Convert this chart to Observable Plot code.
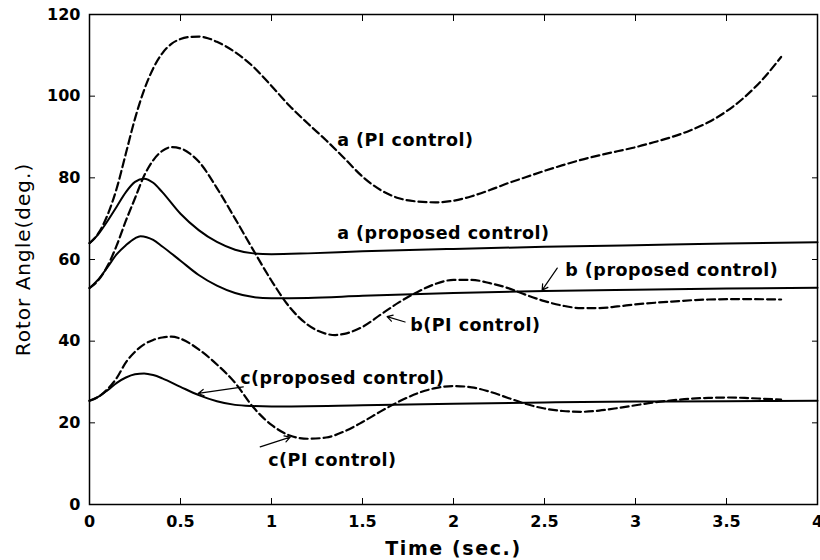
<!DOCTYPE html>
<html><head><meta charset="utf-8">
<script src="https://cdn.jsdelivr.net/npm/d3@7"></script>
<script src="https://cdn.jsdelivr.net/npm/@observablehq/plot@0.6"></script>
<style>
body{margin:0;background:#fff;}
#chart svg{font-family:"DejaVu Sans",sans-serif;background:#fff;}
</style></head><body><div id="chart"></div>
<script>
// ---- data ----
const aPI_t = [0,0.05,0.1,0.15,0.2,0.25,0.3,0.35,0.4,0.45,0.5,0.55,0.6,0.65,0.7,0.8,0.9,1.0,1.1,1.2,1.3,1.4,1.5,1.6,1.7,1.8,1.9,2.0,2.1,2.2,2.3,2.4,2.5,2.6,2.7,2.8,2.9,3.0,3.1,3.2,3.3,3.4,3.5,3.6,3.7,3.8];
const aPI_v = [64,66.5,71,77.5,86,94.5,101.5,106.8,110.5,112.8,114,114.5,114.6,114.2,113.3,110.8,107.2,102.5,97.6,93.3,89.2,84.8,80.3,77,75,74.2,74,74.4,75.5,77,78.7,80.2,81.7,83.1,84.4,85.5,86.5,87.5,88.7,90,91.6,93.6,96.3,99.8,104.2,109.6];

const aProp_t = [0,0.05,0.1,0.15,0.2,0.25,0.3,0.35,0.4,0.5,0.6,0.7,0.8,0.9,1.0,1.2,1.5,2.0,2.5,3.0,3.5,4.0];
const aProp_v = [64,66.3,69.5,73,76.5,79,79.8,78.8,76.5,71.2,67.2,64.3,62.4,61.5,61.3,61.5,62,62.6,63.1,63.5,63.9,64.2];

const bPI_t = [0,0.05,0.1,0.15,0.2,0.25,0.3,0.35,0.4,0.45,0.5,0.55,0.6,0.7,0.8,0.9,1.0,1.1,1.2,1.3,1.35,1.4,1.5,1.6,1.7,1.8,1.9,2.0,2.1,2.2,2.3,2.4,2.5,2.6,2.7,2.8,2.9,3.0,3.2,3.4,3.6,3.8];
const bPI_v = [53,55,58.5,63.5,69.5,75,80.5,84.3,86.6,87.5,87.2,86,84,77.5,70,62.3,54.8,48.3,44,41.8,41.5,41.8,43.5,46.5,49.5,52,54,55,55,54.2,53,51.3,49.8,48.7,48.1,48.1,48.5,49,49.7,50.2,50.3,50.2];

const bProp_t = [0,0.05,0.1,0.15,0.2,0.25,0.28,0.35,0.4,0.5,0.6,0.7,0.8,0.9,1.0,1.2,1.5,2.0,2.5,3.0,3.5,4.0];
const bProp_v = [53,55.2,58.2,61.3,63.5,65.2,65.7,64.8,63.2,59.7,56.2,53.6,51.8,50.8,50.5,50.6,51.1,51.8,52.3,52.6,52.9,53.1];

const cPI_t = [0,0.05,0.1,0.15,0.2,0.25,0.3,0.35,0.4,0.45,0.5,0.6,0.7,0.8,0.9,1.0,1.1,1.2,1.3,1.4,1.5,1.6,1.7,1.8,1.9,2.0,2.1,2.2,2.3,2.4,2.5,2.6,2.7,2.8,2.9,3.0,3.1,3.2,3.3,3.4,3.5,3.6,3.7,3.8];
const cPI_v = [25.4,26.4,28.3,31,34.8,37.4,39.2,40.3,40.9,41.1,40.6,38,34.3,29.8,23.8,19.5,16.9,16.1,16.4,17.9,20.2,22.8,25.2,27.2,28.5,29,28.7,27.6,26.1,24.6,23.5,22.9,22.7,23,23.6,24.3,25,25.5,25.9,26.1,26.2,26.1,25.9,25.7];

const cProp_t = [0,0.05,0.1,0.15,0.2,0.25,0.3,0.35,0.4,0.5,0.6,0.7,0.8,0.9,1.0,1.5,2.0,2.5,3.0,3.5,4.0];
const cProp_v = [25.4,26.4,28,29.8,31.1,31.9,32.1,31.7,30.9,28.8,26.8,25.3,24.4,24.1,24,24.3,24.7,25,25.2,25.3,25.4];

const xTicks = [0,0.5,1,1.5,2,2.5,3,3.5,4];
const xTickLabels = ["0","0.5","1","1.5","2","2.5","3","3.5","4"];
const yTicks = [0,20,40,60,80,100,120];
const yTickLabels = ["0","20","40","60","80","100","120"];

const labelText = ["a (PI control)","a (proposed control)","b (proposed control)","b(PI control)","c(proposed control)","c(PI control)"];
const labelX = [1.361,1.361,2.614,1.762,0.828,0.982];
const labelY = [89.1,66.5,57.4,43.9,30.9,10.8];

const arrowX1 = [2.570,1.734,0.845,0.938];
const arrowY1 = [57.9,44.7,28.8,14.1];
const arrowX2 = [2.487,1.635,0.597,1.103];
const arrowY2 = [52.5,46.0,27.2,16.5];

const xTitle = "Time (sec.)";
const yTitle = "Rotor Angle(deg.)";

// ---- build tables ----
const rows = [];
function addSeries(name, kind, ts, vs){ ts.forEach((t,i)=>rows.push({series:name, kind, t, v:vs[i]})); }
addSeries("a PI","PI",aPI_t,aPI_v);
addSeries("b PI","PI",bPI_t,bPI_v);
addSeries("c PI","PI",cPI_t,cPI_v);
addSeries("a proposed","proposed",aProp_t,aProp_v);
addSeries("b proposed","proposed",bProp_t,bProp_v);
addSeries("c proposed","proposed",cProp_t,cProp_v);

const labels = labelText.map((s,i)=>({s, x:labelX[i], y:labelY[i]}));
const arrows = arrowX1.map((d,i)=>({x1:arrowX1[i], y1:arrowY1[i], x2:arrowX2[i], y2:arrowY2[i]}));

const fx = d => xTickLabels[xTicks.indexOf(d)];
const fy = d => yTickLabels[yTicks.indexOf(d)];

const chart = Plot.plot({
  width: 820, height: 560,
  marginLeft: 89, marginRight: 3, marginTop: 14, marginBottom: 56,
  x: {domain: [0,4]},
  y: {domain: [0,120]},
  style: {fontFamily: "DejaVu Sans", background: "white", color: "black"},
  marks: [
    Plot.axisX({anchor:"bottom", ticks:xTicks, tickSize:-6, tickPadding:17, tickFormat:fx, fontSize:16, fontWeight:"bold", label:null}),
    Plot.axisX({anchor:"top", ticks:xTicks, tickSize:-6, tickFormat:()=>"", label:null}),
    Plot.axisY({anchor:"left", ticks:yTicks, tickSize:-6, tickPadding:15, tickFormat:fy, fontSize:16, fontWeight:"bold", label:null}),
    Plot.axisY({anchor:"right", ticks:yTicks, tickSize:-6, tickFormat:()=>"", label:null}),
    Plot.frame({stroke:"black", strokeWidth:1.5}),
    Plot.line(rows.filter(d=>d.kind==="proposed"), {x:"t", y:"v", z:"series", stroke:"black", strokeWidth:2, curve:"monotone-x"}),
    Plot.line(rows.filter(d=>d.kind==="PI"), {x:"t", y:"v", z:"series", stroke:"black", strokeWidth:2.2, strokeDasharray:"8,4", curve:"monotone-x"}),
    Plot.arrow(arrows, {x1:"x1", y1:"y1", x2:"x2", y2:"y2", stroke:"black", strokeWidth:1.2, headLength:8}),
    Plot.text(labels, {x:"x", y:"y", text:"s", textAnchor:"start", lineAnchor:"middle", fontSize:17.5, fontWeight:"bold", fill:"black"}),
    Plot.text([xTitle], {frameAnchor:"bottom", text:d=>d, dy:50, textAnchor:"middle", fontSize:19, fontWeight:"bold", fill:"black"}),
    Plot.text([yTitle], {frameAnchor:"left", text:d=>d, dx:-66, rotate:-90, textAnchor:"middle", lineAnchor:"middle", fontSize:20, fill:"black"})
  ]
});
document.getElementById("chart").appendChild(chart);
const tg = d3.select(chart).selectAll('g[aria-label="text"]').nodes();
if (tg.length >= 3) {
  d3.select(tg[0]).selectAll("text").style("letter-spacing","0.5px");
  d3.select(tg[1]).selectAll("text").style("letter-spacing","1.6px");
  d3.select(tg[2]).selectAll("text").style("letter-spacing","1px");
}
</script></body></html>
